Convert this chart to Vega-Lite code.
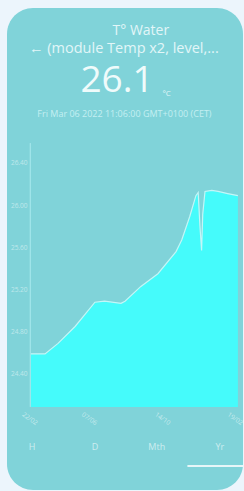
{
  "$schema": "https://vega.github.io/schema/vega-lite/v6.json",
  "width": 236,
  "height": 482,
  "autosize": {"type": "none"},
  "padding": {"left": 7, "top": 8, "right": 1, "bottom": 1},
  "background": "#ecf5fc",
  "config": {
    "view": {"fill": "#80d3d9", "stroke": null, "cornerRadius": 26},
    "font": "Open Sans",
    "axis": {
      "labelOverlap": false,
      "labelFlush": false,
      "labelBound": false,
      "domain": false,
      "ticks": false,
      "grid": false,
      "labelColor": "#ffffff",
      "labelFontSize": 6.5,
      "zindex": 1
    }
  },
  "datasets": {
    "temp": [
      {"date": "2021-03-06", "value": 24.59},
      {"date": "2021-03-31", "value": 24.59},
      {"date": "2021-04-23", "value": 24.69},
      {"date": "2021-05-23", "value": 24.85},
      {"date": "2021-06-27", "value": 25.08},
      {"date": "2021-07-14", "value": 25.09},
      {"date": "2021-08-12", "value": 25.07},
      {"date": "2021-08-19", "value": 25.09},
      {"date": "2021-09-16", "value": 25.23},
      {"date": "2021-10-16", "value": 25.35},
      {"date": "2021-11-17", "value": 25.56},
      {"date": "2021-11-27", "value": 25.67},
      {"date": "2021-12-11", "value": 25.89},
      {"date": "2021-12-22", "value": 26.09},
      {"date": "2021-12-26", "value": 26.12},
      {"date": "2021-12-29", "value": 25.81},
      {"date": "2022-01-01", "value": 25.57},
      {"date": "2022-01-03", "value": 25.91},
      {"date": "2022-01-07", "value": 26.13},
      {"date": "2022-01-19", "value": 26.14},
      {"date": "2022-01-30", "value": 26.13},
      {"date": "2022-02-16", "value": 26.11},
      {"date": "2022-03-06", "value": 26.09}
    ]
  },
  "layer": [
    {
      "data": {"name": "temp"},
      "mark": {"type": "area", "color": "#45fbfb", "opacity": 1, "line": {"color": "#c4f6f7", "strokeWidth": 1.2}},
      "encoding": {
        "x": {
          "field": "date", "type": "temporal",
          "scale": {"domain": [{"year": 2021, "month": 1, "date": 23, "utc": true}, {"year": 2022, "month": 3, "date": 15, "utc": true}]},
          "axis": {
            "values": [
              {"year": 2021, "month": 2, "date": 22, "utc": true},
              {"year": 2021, "month": 4, "date": 15, "utc": true},
              {"year": 2021, "month": 6, "date": 7, "utc": true},
              {"year": 2021, "month": 8, "date": 22, "utc": true},
              {"year": 2021, "month": 10, "date": 14, "utc": true},
              {"year": 2021, "month": 12, "date": 23, "utc": true},
              {"year": 2022, "month": 2, "date": 19, "utc": true}
            ],
            "format": "%d/%m",
            "labelAngle": 35,
            "labelAlign": "left",
            "labelBaseline": "top",
            "labelFontSize": 6.5,
            "labelColor": "#ffffff",
            "labelOpacity": 0.55,
            "labelPadding": 4,
            "labelOverlap": false,
            "labelFlush": false,
            "labelBound": false,
            "domain": false,
            "ticks": false,
            "grid": false,
            "title": null,
            "offset": -83,
            "zindex": 1
          }
        },
        "y": {
          "field": "value", "type": "quantitative",
          "scale": {"domain": [23.3, 27.869], "zero": false, "nice": false},
          "axis": {
            "values": [24.4, 24.8, 25.2, 25.6, 26.0, 26.4],
            "format": ".2f",
            "labelFontSize": 6.5,
            "labelColor": "#ffffff",
            "labelOpacity": 0.5,
            "labelPadding": 3,
            "labelOverlap": false,
            "labelFlush": false,
            "domain": false,
            "ticks": false,
            "grid": false,
            "title": null,
            "offset": -23,
            "zindex": 1
          }
        },
        "y2": {"datum": 24.087}
      }
    },
    {
      "data": {"values": [{"axis": "y"}]},
      "mark": {"type": "rule", "color": "#a9eaee", "strokeWidth": 1},
      "encoding": {
        "x": {"datum": {"year": 2021, "month": 3, "date": 5, "utc": true}, "type": "temporal", "axis": {"labelOverlap": false}},
        "y": {"datum": 26.589, "type": "quantitative"},
        "y2": {"datum": 24.087}
      }
    },
    {
      "data": {"values": [{"label": "T° Water"}]},
      "mark": {"type": "text", "fontSize": 14, "color": "#e2f6f8", "align": "center", "baseline": "alphabetic"},
      "encoding": {
        "text": {"field": "label"},
        "x": {"datum": {"year": 2021, "month": 9, "date": 16, "utc": true}, "type": "temporal", "axis": {"labelOverlap": false}},
        "y": {"datum": 27.613, "type": "quantitative"}
      }
    },
    {
      "data": {"values": [{"label": "← (module Temp x2, level,..."}]},
      "mark": {"type": "text", "fontSize": 14.5, "color": "#e2f6f8", "align": "center", "baseline": "alphabetic"},
      "encoding": {
        "text": {"field": "label"},
        "x": {"datum": {"year": 2021, "month": 8, "date": 17, "utc": true}, "type": "temporal", "axis": {"labelOverlap": false}},
        "y": {"datum": 27.443, "type": "quantitative"}
      }
    },
    {
      "data": {"values": [{"label": "26.1"}]},
      "mark": {"type": "text", "fontSize": 37, "color": "#effbfb", "align": "center", "baseline": "alphabetic"},
      "encoding": {
        "text": {"field": "label"},
        "x": {"datum": {"year": 2021, "month": 8, "date": 5, "utc": true}, "type": "temporal", "axis": {"labelOverlap": false}},
        "y": {"datum": 27.073, "type": "quantitative"}
      }
    },
    {
      "data": {"values": [{"label": "°C"}]},
      "mark": {"type": "text", "fontSize": 8, "color": "#e2f6f8", "align": "left", "baseline": "alphabetic"},
      "encoding": {
        "text": {"field": "label"},
        "x": {"datum": {"year": 2021, "month": 10, "date": 24, "utc": true}, "type": "temporal", "axis": {"labelOverlap": false}},
        "y": {"datum": 27.035, "type": "quantitative"}
      }
    },
    {
      "data": {"values": [{"label": "Fri Mar 06 2022 11:06:00 GMT+0100 (CET)"}]},
      "mark": {"type": "text", "fontSize": 9, "color": "#c4eff2", "align": "center", "baseline": "alphabetic"},
      "encoding": {
        "text": {"field": "label"},
        "x": {"datum": {"year": 2021, "month": 8, "date": 18, "utc": true}, "type": "temporal", "axis": {"labelOverlap": false}},
        "y": {"datum": 26.836, "type": "quantitative"}
      }
    },
    {
      "data": {"values": [{"label": "H"}]},
      "mark": {"type": "text", "fontSize": 9, "color": "#ffffff", "opacity": 0.6, "align": "center", "baseline": "alphabetic"},
      "encoding": {
        "text": {"field": "label"},
        "x": {"datum": {"year": 2021, "month": 3, "date": 8, "utc": true}, "type": "temporal", "axis": {"labelOverlap": false}},
        "y": {"datum": 23.679, "type": "quantitative"}
      }
    },
    {
      "data": {"values": [{"label": "D"}]},
      "mark": {"type": "text", "fontSize": 9, "color": "#ffffff", "opacity": 0.6, "align": "center", "baseline": "alphabetic"},
      "encoding": {
        "text": {"field": "label"},
        "x": {"datum": {"year": 2021, "month": 6, "date": 27, "utc": true}, "type": "temporal", "axis": {"labelOverlap": false}},
        "y": {"datum": 23.679, "type": "quantitative"}
      }
    },
    {
      "data": {"values": [{"label": "Mth"}]},
      "mark": {"type": "text", "fontSize": 9, "color": "#ffffff", "opacity": 0.6, "align": "center", "baseline": "alphabetic"},
      "encoding": {
        "text": {"field": "label"},
        "x": {"datum": {"year": 2021, "month": 10, "date": 14, "utc": true}, "type": "temporal", "axis": {"labelOverlap": false}},
        "y": {"datum": 23.679, "type": "quantitative"}
      }
    },
    {
      "data": {"values": [{"label": "Yr"}]},
      "mark": {"type": "text", "fontSize": 9, "color": "#ffffff", "opacity": 0.6, "align": "center", "baseline": "alphabetic"},
      "encoding": {
        "text": {"field": "label"},
        "x": {"datum": {"year": 2022, "month": 2, "date": 2, "utc": true}, "type": "temporal", "axis": {"labelOverlap": false}},
        "y": {"datum": 23.679, "type": "quantitative"}
      }
    },
    {
      "data": {"values": [{"tab": "Yr"}]},
      "mark": {"type": "rule", "color": "#ffffff", "opacity": 0.8, "strokeWidth": 2},
      "encoding": {
        "x": {"datum": {"year": 2021, "month": 12, "date": 7, "utc": true}, "type": "temporal", "axis": {"labelOverlap": false}},
        "x2": {"datum": {"year": 2022, "month": 3, "date": 15, "utc": true}},
        "y": {"datum": 23.527, "type": "quantitative"}
      }
    }
  ]
}
